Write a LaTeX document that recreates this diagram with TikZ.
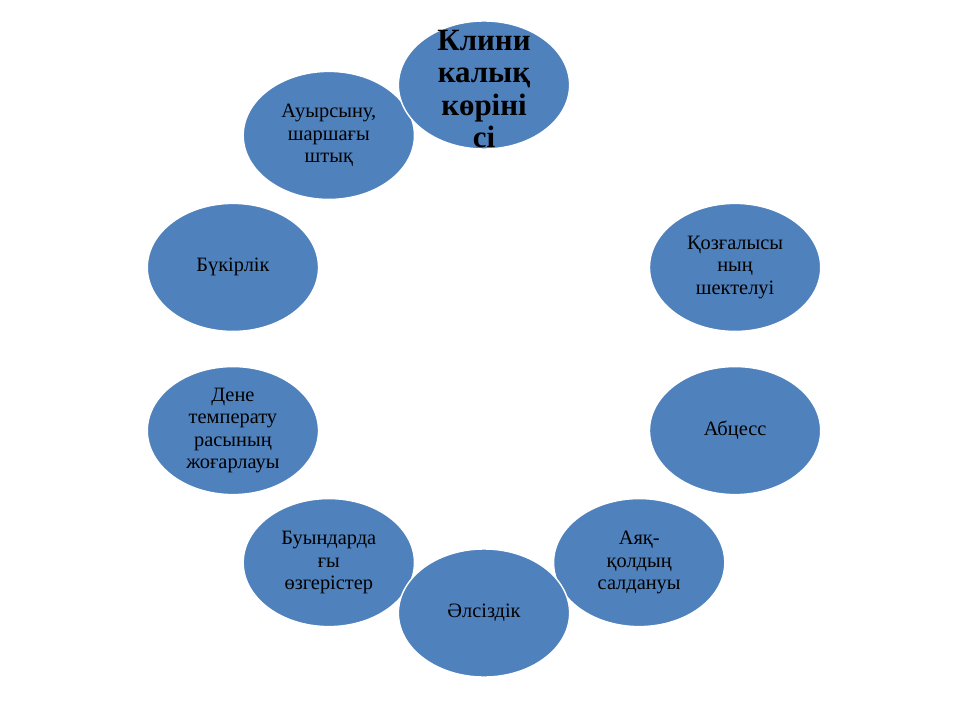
\documentclass[tikz,border=0pt]{standalone}
\usepackage{fontspec}
\setmainfont{Liberation Serif}
\usetikzlibrary{shapes.geometric}
\definecolor{cycleblue}{HTML}{4F81BD}
\tikzset{
  symptom/.style={ellipse, draw=white, line width=1pt, fill=cycleblue,
    minimum width=4.28cm, minimum height=3.2cm, inner sep=0pt,
    align=center, font=\fontsize{14.5}{16}\selectfont},
  titletext/.style={align=center, yshift=-0.1cm,
    font=\fontsize{22}{23}\selectfont\bfseries}
}
\begin{document}
\begin{tikzpicture}
    \useasboundingbox (0,0) rectangle (24,18);
    \coordinate (hub) at (12.1,9.275);
    \node[symptom] (pain)  at ([shift={(126:6.6)}]hub) {Ауырсыну,\\шаршағы\\штық};
    \node[symptom, label={[titletext]center:Клини\\калық\\көріні\\сі}] (clin)
        at ([shift={(90:6.6)}]hub) {};
    \node[symptom] (move)  at ([shift={(18:6.6)}]hub)  {Қозғалысы\\ның\\шектелуі};
    \node[symptom] (absc)  at ([shift={(-18:6.6)}]hub) {Абцесс};
    \node[symptom] (limb)  at ([shift={(-54:6.6)}]hub) {Аяқ-\\қолдың\\салдануы};
    \node[symptom] (joint) at ([shift={(-126:6.6)}]hub) {Буындарда\\ғы\\өзгерістер};
    \node[symptom] (temp)  at ([shift={(-162:6.6)}]hub) {Дене\\температу\\расының\\жоғарлауы};
    \node[symptom] (hump)  at ([shift={(162:6.6)}]hub) {Бүкірлік};
    \node[symptom] (weak)  at ([shift={(-90:6.6)}]hub) {Әлсіздік};
\end{tikzpicture}
\end{document}
